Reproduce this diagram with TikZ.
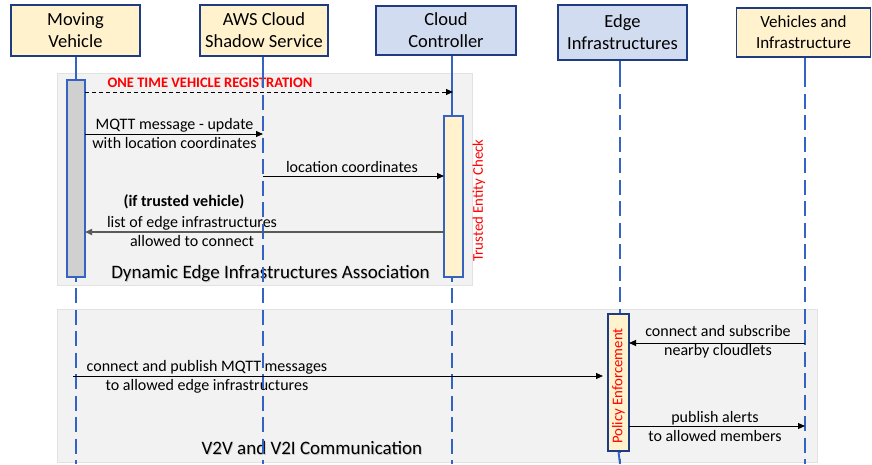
\documentclass[tikz,border=0pt]{standalone}
\usepackage{fontspec}
\setmainfont{Carlito}
\usetikzlibrary{arrows.meta}
\definecolor{hdryellow}{HTML}{FFF2CC}
\definecolor{hdrblue}{HTML}{D1DCF0}
\definecolor{navy}{HTML}{1F3B82}
\definecolor{lifeblue}{HTML}{3463C4}
\definecolor{groupfill}{HTML}{F2F2F2}
\definecolor{groupline}{HTML}{E2E2E2}
\definecolor{barfill}{HTML}{D0D0D0}
\definecolor{msgred}{HTML}{FF0000}
\definecolor{retgray}{HTML}{5A5A5A}
\begin{document}
\begin{tikzpicture}[x=1pt,y=-1pt,
  hdr/.style={draw=navy, line width=1.6pt, inner sep=0pt, align=center,
    font=\fontsize{18.5}{22}\selectfont},
  lifesolid/.style={draw=lifeblue, line width=1.9pt},
  lifedash/.style={draw=lifeblue, line width=1.9pt, dash pattern=on 15pt off 6.5pt},
  group/.style={fill=groupfill, draw=groupline, line width=0.8pt},
  actbar/.style={draw=lifeblue, line width=1.4pt, inner sep=0pt},
  msg/.style={-{Triangle[length=7pt,width=6pt]}, line width=1pt, black},
  lbl/.style={inner sep=0pt, align=center, font=\fontsize{16}{19}\selectfont},
  sect/.style={inner sep=0pt, font=\fontsize{19}{22}\selectfont},
  vlbl/.style={inner sep=0pt, rotate=90, text=msgred, font=\fontsize{14.8}{17}\selectfont}
]
\useasboundingbox (0,0) rectangle (872,464);

% group backgrounds
\draw[group] (57,73) rectangle (472,285);
\draw[group] (57,309) rectangle (817,462);

% headers
\node[hdr, fill=hdryellow, minimum width=129pt, minimum height=51pt] (mv) at (75.5,30.5) {Moving\\Vehicle};
\node[hdr, fill=hdryellow, minimum width=128pt, minimum height=51pt] (aws) at (264,30.5) {AWS Cloud\\Shadow Service};
\node[hdr, fill=hdrblue, minimum width=140pt, minimum height=49pt] (cc) at (446,30.5) {Cloud\\Controller};
\node[hdr, fill=hdrblue, minimum width=129pt, minimum height=55pt] (ei) at (622.5,32.5) {Edge\\Infrastructures};
\node[hdr, fill=hdryellow, minimum width=134pt, minimum height=49pt,
  font=\fontsize{17}{21}\selectfont] (vi) at (803.5,32.5) {Vehicles and\\Infrastructure};

% lifeline reference coordinates
\coordinate (mvT) at (76,73);   \coordinate (mvB) at (76,464);
\coordinate (awsT) at (263,73); \coordinate (awsB) at (263,464);
\coordinate (ccT) at (452,116); \coordinate (ccB) at (452,464);
\coordinate (eiT) at (620,72);  \coordinate (eiB) at (620,464);
\coordinate (viT) at (805,72);  \coordinate (viB) at (805,464);

% labels (under the lifelines)
\node[lbl, text=msgred, font=\bfseries\fontsize{14.5}{17}\selectfont] (reg) at (210,83) {ONE TIME VEHICLE REGISTRATION};
\node[lbl] (m1) at (174.5,133) {MQTT message - update\\with location coordinates};
\node[lbl] (m2) at (352,166.5) {location coordinates};
\node[lbl, font=\bfseries\fontsize{16}{19}\selectfont] (m3a) at (184,202) {(if trusted vehicle)};
\node[lbl] (m3) at (192,231.5) {list of edge infrastructures\\allowed to connect};
\node[lbl] (m4) at (207,376.5) {connect and publish MQTT messages\\to allowed edge infrastructures};
\node[lbl] (m5) at (718,341.5) {connect and subscribe\\nearby cloudlets};
\node[lbl] (m6) at (715,426.5) {publish alerts\\to allowed members};

% section titles with soft shadow
\node[sect, text=black!35, opacity=0.6] at (271.3,275) {Dynamic Edge Infrastructures Association};
\node[sect] (s1) at (270.5,274) {Dynamic Edge Infrastructures Association};
\node[sect, text=black!35, opacity=0.6] at (312.8,449) {V2V and V2I Communication};
\node[sect] (s2) at (312,448) {V2V and V2I Communication};

% lifelines
\draw[lifesolid] (mv.south -| mvT) -- (mvT);
\draw[lifedash] (mvT) -- (mvB);
\draw[lifesolid] (aws.south -| awsT) -- (awsT);
\draw[lifedash] (awsT) -- (awsB);
\draw[lifesolid] (cc.south -| ccT) -- (ccT);
\draw[lifedash] (ccT) -- (ccB);
\draw[lifesolid] (ei.south -| eiT) -- (eiT);
\draw[lifedash] (eiT) -- (eiB);
\draw[lifesolid] (vi.south -| viT) -- (viT);
\draw[lifedash] (viT) -- (viB);

% activation bars
\node[actbar, fill=barfill, minimum width=18pt, minimum height=197pt] (mvbar) at (76,178.5) {};
\node[actbar, fill=hdryellow, line width=1.6pt, minimum width=19pt, minimum height=161pt] (ccbar) at (453.5,196.5) {};
\node[actbar, draw=navy, fill=hdryellow, line width=1.6pt, minimum width=21pt, minimum height=137pt] (pebar) at (618.5,382.5) {};
\draw[lifesolid] (pebar.south) -- (eiB);

\node[vlbl] (tec) at (479,200.5) {Trusted Entity Check};
\node[vlbl] (pe) at (618.5,386) {Policy Enforcement};

% message end points
\coordinate (a1s) at (85,92);   \coordinate (a1e) at (453,92);
\coordinate (a2s) at (85,134);  \coordinate (a2e) at (263,134);
\coordinate (a3s) at (263,176); \coordinate (a3e) at (444,176);
\coordinate (a4s) at (444,232); \coordinate (a4e) at (85,232);
\coordinate (a5s) at (73,376);  \coordinate (a5e) at (603,376);
\coordinate (a6s) at (805,343); \coordinate (a6e) at (629,343);
\coordinate (a7s) at (629,426); \coordinate (a7e) at (805,426);

\draw[msg, dash pattern=on 4pt off 3pt] (a1s) -- (a1e);
\draw[msg] (a2s) -- (a2e);
\draw[msg] (a3s) -- (a3e);
\draw[msg, draw=retgray, line width=1.6pt] (a4s) -- (a4e);
\draw[msg] (a5s) -- (a5e);
\draw[msg] (a6s) -- (a6e);
\draw[msg] (a7s) -- (a7e);
\end{tikzpicture}
\end{document}
